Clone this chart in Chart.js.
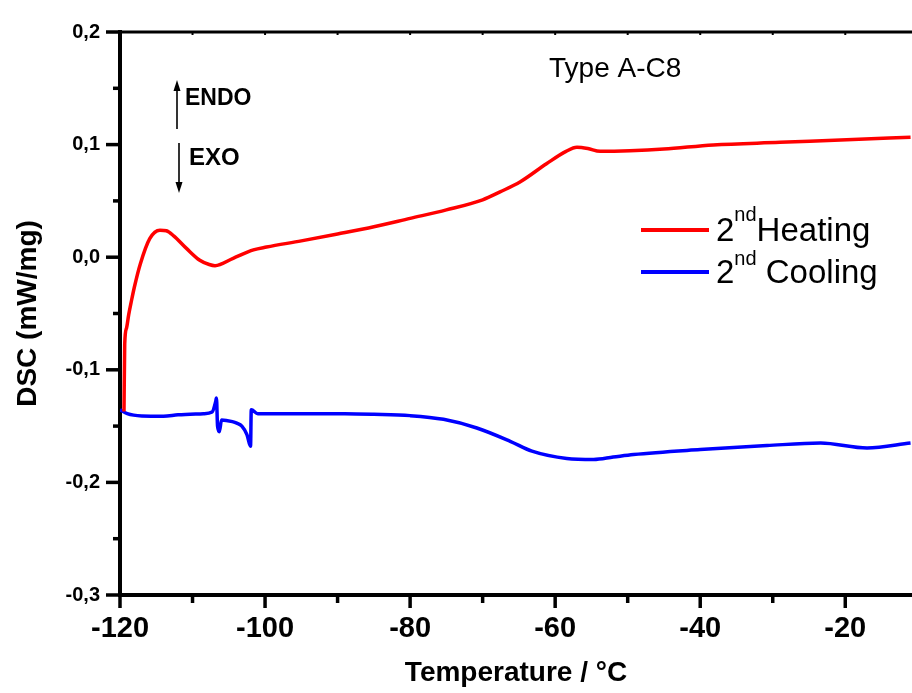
<!DOCTYPE html>
<html>
<head>
<meta charset="utf-8">
<script src="https://cdn.jsdelivr.net/npm/chart.js@4.4.1/dist/chart.umd.min.js"></script>
<style>
html,body{margin:0;padding:0;background:#fff;}
canvas{display:block;}
</style>
</head>
<body>
<canvas id="c" width="912" height="693"></canvas>
<script>
// ---- data ----
const heatT = [-119.45,-119.35,-119.1,-118.8,-118.4,-118.0,-117.2,-115.9,-114.5,-113.6,-112.6,-110.8,-109.0,-107.7,-106.9,-104.4,-101.6,-99.8,-95,-90,-85,-80,-75,-70,-67.6,-64.8,-61.2,-58.5,-57.0,-55.5,-53.8,-49.7,-45,-38.2,-29.0,-19.8,-11.0];
const heatDSC = [-0.137,-0.077,-0.063,-0.051,-0.038,-0.026,-0.006,0.0165,0.024,0.0235,0.019,0.0076,-0.0027,-0.0065,-0.0075,-0.001,0.0065,0.009,0.0145,0.0206,0.027,0.0345,0.042,0.051,0.058,0.067,0.083,0.094,0.0976,0.0965,0.094,0.0945,0.096,0.0997,0.102,0.1044,0.1065];
const coolT = [-120,-119,-117,-114,-112,-108.5,-107.3,-106.8,-106.7,-106.55,-106.3,-106.0,-104.5,-103.9,-103.2,-102.5,-102.0,-101.9,-101,-95,-89,-85,-80,-75.4,-70.8,-66.2,-63.2,-58.4,-54.7,-52,-49.2,-40,-30.8,-23.4,-17.0,-11.0];
const coolDSC = [-0.1354,-0.139,-0.141,-0.1412,-0.140,-0.139,-0.1375,-0.128,-0.125,-0.150,-0.155,-0.1445,-0.146,-0.1473,-0.150,-0.1575,-0.168,-0.1354,-0.139,-0.139,-0.139,-0.1395,-0.1407,-0.144,-0.1517,-0.1635,-0.1723,-0.1788,-0.1797,-0.1775,-0.1752,-0.1708,-0.1673,-0.165,-0.1694,-0.165];
const seriesLabels = ['2ndHeating', '2nd Cooling'];
const seriesColors = ['#ff0000', '#0000ff'];
const xTickValues = [-120,-100,-80,-60,-40,-20];
const xTickLabels = ['-120','-100','-80','-60','-40','-20'];
const yTickValues = [-0.3,-0.2,-0.1,0.0,0.1,0.2];
const yTickLabels = ['-0,3','-0,2','-0,1','0,0','0,1','0,2'];
const sampleName = 'Type A-C8';
const endoLabel = 'ENDO';
const exoLabel = 'EXO';

function pts(xs, ys){ return xs.map((x,i)=>({x:x, y:ys[i]})); }
function findLabel(vals, labs, v){
  for (let i=0;i<vals.length;i++){ if (Math.abs(vals[i]-v) < 1e-6) return labs[i]; }
  return '';
}

const decorPlugin = {
  id:'decor',
  afterDraw(chart){
    const ctx = chart.ctx;
    const xs = chart.scales.x, ys = chart.scales.y;
    const a = chart.chartArea;
    ctx.save();
    ctx.strokeStyle = '#000';
    ctx.lineCap = 'butt';
    // top frame
    ctx.lineWidth = 3;
    ctx.beginPath(); ctx.moveTo(a.left, a.top); ctx.lineTo(a.right, a.top); ctx.stroke();
    // x ticks
    ctx.lineWidth = 3.5;
    xs.ticks.forEach(t=>{
      const px = xs.getPixelForValue(t.value);
      const major = findLabel(xTickValues, xTickLabels, t.value) !== '';
      ctx.beginPath(); ctx.moveTo(px, a.bottom); ctx.lineTo(px, a.bottom + (major ? 13 : 8)); ctx.stroke();
      ctx.lineWidth = 2;
      ctx.beginPath(); ctx.moveTo(px, a.top); ctx.lineTo(px, a.top + 3); ctx.stroke();
      ctx.lineWidth = 3.5;
    });
    // y ticks
    ys.ticks.forEach(t=>{
      const py = ys.getPixelForValue(t.value);
      const major = findLabel(yTickValues, yTickLabels, t.value) !== '';
      ctx.beginPath(); ctx.moveTo(a.left, py); ctx.lineTo(a.left - (major ? 14 : 7), py); ctx.stroke();
    });
    // sample name
    ctx.fillStyle = '#000';
    ctx.textBaseline = 'alphabetic';
    ctx.textAlign = 'left';
    ctx.font = '28px "Liberation Sans", Arial, sans-serif';
    ctx.fillText(sampleName, 549, 77);
    // ENDO / EXO
    ctx.font = 'bold 23px "Liberation Sans", Arial, sans-serif';
    ctx.fillText(endoLabel, 185, 105);
    ctx.font = 'bold 24px "Liberation Sans", Arial, sans-serif';
    ctx.fillText(exoLabel, 189, 165);
    ctx.lineWidth = 1.6;
    ctx.beginPath(); ctx.moveTo(177, 129); ctx.lineTo(177, 88); ctx.stroke();
    ctx.beginPath(); ctx.moveTo(177, 80); ctx.lineTo(173.5, 91); ctx.lineTo(180.5, 91); ctx.closePath(); ctx.fill();
    ctx.beginPath(); ctx.moveTo(179, 143); ctx.lineTo(179, 185); ctx.stroke();
    ctx.beginPath(); ctx.moveTo(179, 193); ctx.lineTo(175.5, 182); ctx.lineTo(182.5, 182); ctx.closePath(); ctx.fill();
    // legend
    const rows = [{ly:230, base:241, supBase:221}, {ly:272, base:283, supBase:265}];
    seriesLabels.forEach((lab, i)=>{
      const r = rows[i];
      ctx.strokeStyle = chart.data.datasets[i].borderColor;
      ctx.lineWidth = 4;
      ctx.beginPath(); ctx.moveTo(641, r.ly); ctx.lineTo(709, r.ly); ctx.stroke();
      const m = lab.match(/^(\d+)(st|nd|rd|th)(.*)$/);
      let x = 716;
      ctx.fillStyle = '#000';
      ctx.font = '33px "Liberation Sans", Arial, sans-serif';
      ctx.fillText(m[1], x, r.base); x += ctx.measureText(m[1]).width;
      ctx.font = '20px "Liberation Sans", Arial, sans-serif';
      ctx.fillText(m[2], x, r.supBase); x += ctx.measureText(m[2]).width;
      ctx.font = '33px "Liberation Sans", Arial, sans-serif';
      ctx.fillText(m[3], x, r.base);
    });
    ctx.restore();
  }
};

new Chart(document.getElementById('c'), {
  type:'line',
  data:{
    datasets:[
      {label:seriesLabels[0], data:pts(heatT, heatDSC), borderColor:seriesColors[0], borderWidth:3.5, pointRadius:0, cubicInterpolationMode:'monotone', fill:false},
      {label:seriesLabels[1], data:pts(coolT, coolDSC), borderColor:seriesColors[1], borderWidth:3.5, pointRadius:0, cubicInterpolationMode:'monotone', fill:false}
    ]
  },
  options:{
    responsive:false,
    animation:false,
    layout:{padding:{top:29, right:0, left:0, bottom:0}},
    plugins:{legend:{display:false}, tooltip:{enabled:false}},
    scales:{
      x:{
        type:'linear', min:-120, max:-10.8,
        afterFit(s){ s.height = 98; },
        ticks:{stepSize:10, includeBounds:false, autoSkip:false, maxRotation:0, minRotation:0, padding:17, color:'#000',
          font:{family:'"Liberation Sans", Arial, sans-serif', weight:'bold', size:29},
          callback(v){ return findLabel(xTickValues, xTickLabels, v); }},
        grid:{display:false, drawTicks:false},
        border:{display:true, color:'#000', width:4},
        title:{display:true, text:'Temperature / °C', color:'#000', padding:{top:0, bottom:3},
          font:{family:'"Liberation Sans", Arial, sans-serif', weight:'bold', size:28}}
      },
      y:{
        type:'linear', min:-0.3, max:0.2,
        afterFit(s){ s.width = 120; },
        ticks:{stepSize:0.05, autoSkip:false, padding:20, color:'#000',
          font:{family:'"Liberation Sans", Arial, sans-serif', weight:'bold', size:20},
          callback(v){ return findLabel(yTickValues, yTickLabels, v); }},
        grid:{display:false, drawTicks:false},
        border:{display:true, color:'#000', width:4},
        title:{display:true, text:'DSC (mW/mg)', color:'#000', padding:{top:11, bottom:0},
          font:{family:'"Liberation Sans", Arial, sans-serif', weight:'bold', size:28}}
      }
    }
  },
  plugins:[decorPlugin]
});
</script>
</body>
</html>
